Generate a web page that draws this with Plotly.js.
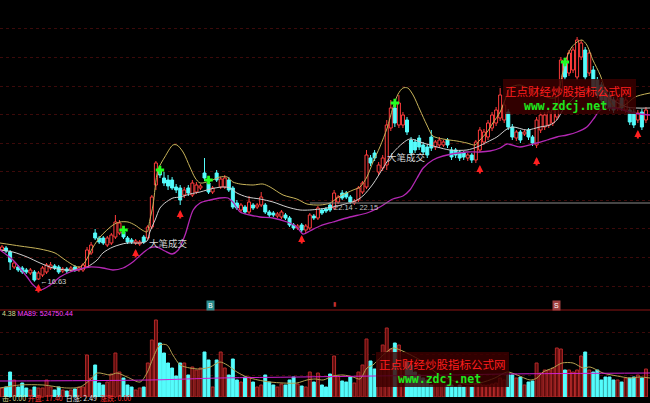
<!DOCTYPE html>
<html><head><meta charset="utf-8">
<script src="https://cdn.plot.ly/plotly-3.0.1.min.js"></script>
<style>html,body{margin:0;padding:0;background:#000;overflow:hidden}#chart{width:650px;height:403px}</style>
</head><body><div id="chart"></div>
<script>
// ---- candle data (price) ----
const openP = [18.85,18.99,18.71,17.66,17.66,17.59,17.45,17.24,17.31,16.82,
17.10,17.31,17.59,17.73,17.66,17.38,17.52,17.45,17.66,17.45,
17.45,17.66,18.64,20.04,19.69,19.69,19.20,19.34,19.76,20.04,
20.11,19.69,19.55,19.34,19.27,19.76,19.69,20.46,23.40,24.45,
23.89,23.75,23.75,23.26,23.19,22.70,23.19,22.70,22.91,23.19,
24.24,23.54,22.91,24.24,23.26,23.26,23.75,23.19,22.14,21.65,
21.86,21.51,22.00,21.86,22.00,22.00,21.51,21.44,21.23,21.16,
21.30,21.09,20.60,20.39,20.60,20.25,20.39,21.23,21.09,21.65,
21.72,22.00,21.79,22.21,22.84,22.84,22.56,22.14,22.35,22.91,
23.26,25.29,25.64,24.31,24.59,24.80,27.39,28.79,27.60,27.60,
27.95,26.55,26.41,26.69,26.20,26.06,26.76,26.06,26.20,26.20,
26.55,25.85,25.85,25.71,25.64,25.29,25.50,25.15,25.85,26.41,
26.76,27.39,27.74,28.09,27.95,28.51,27.46,26.69,27.11,26.97,
27.25,26.76,26.20,27.25,27.46,27.60,27.74,28.16,29.91,31.94,
31.24,31.45,30.96,32.36,32.85,31.24,31.45,30.75,30.40,30.05,
29.70,29.35,28.79,29.49,28.65,28.65,28.51,27.95,28.51,27.95];
const closeP = [19.06,18.78,18.01,17.94,17.45,17.31,17.31,17.45,16.75,17.24,
17.59,17.80,17.80,17.59,17.31,17.52,17.38,17.59,17.45,17.59,
17.80,18.85,19.20,19.69,19.41,19.34,19.69,19.90,20.81,20.74,
19.76,19.41,19.41,19.48,19.41,19.41,20.46,22.56,24.94,24.10,
23.54,23.33,23.19,23.05,22.35,23.05,22.84,23.54,23.40,23.33,
23.89,22.91,23.19,23.75,23.82,23.89,23.05,21.86,21.79,22.00,
21.51,22.21,21.79,22.00,22.56,21.51,21.30,21.30,21.37,21.51,
21.09,20.60,20.39,20.53,20.25,20.53,21.30,21.09,21.79,21.44,
21.58,21.65,22.84,22.56,22.49,22.56,22.21,22.28,23.19,23.54,
25.50,24.94,25.29,24.80,25.29,27.60,28.79,27.74,29.14,28.30,
27.11,25.64,25.85,26.06,25.71,25.50,25.99,26.41,26.55,26.41,
26.20,25.36,25.50,25.29,25.36,25.50,25.15,26.41,27.25,27.11,
27.74,28.30,28.65,29.70,29.00,27.46,26.76,27.11,26.55,27.11,
26.76,26.34,27.95,28.30,28.30,28.51,28.65,29.91,32.15,30.96,
32.64,32.85,33.55,33.34,30.96,32.64,30.19,29.70,29.35,29.00,
28.79,28.65,29.35,28.79,29.35,27.81,27.60,28.44,27.46,28.65];
const highP = [19.20,19.13,18.85,18.08,17.80,17.73,17.59,17.59,17.45,17.38,
17.73,17.94,18.01,17.87,17.80,17.66,17.66,17.73,17.80,17.73,
17.94,19.06,19.41,20.32,19.83,19.83,19.83,20.04,21.30,20.95,
20.32,19.83,19.69,19.62,19.55,19.90,20.60,22.70,25.08,24.73,
24.31,24.10,23.96,23.47,23.40,23.26,23.40,23.75,23.61,23.47,
25.29,23.75,23.33,24.45,23.96,24.10,23.96,23.33,22.35,22.14,
22.00,22.63,22.14,22.14,22.91,22.14,21.65,21.58,21.51,21.65,
21.44,21.23,20.74,20.67,20.74,20.67,21.44,21.37,21.93,21.79,
21.86,22.14,23.05,22.70,23.05,22.98,22.70,22.42,23.33,23.68,
25.85,25.50,25.85,25.01,25.50,27.95,29.35,29.07,29.70,28.51,
28.16,26.76,26.62,26.90,26.41,26.27,27.25,26.55,26.76,26.55,
26.69,26.06,25.99,25.85,25.78,25.64,25.64,26.55,27.46,27.32,
27.95,28.51,28.86,30.19,29.21,28.72,27.67,27.25,27.25,27.25,
27.39,26.90,28.16,28.51,28.51,28.72,28.86,30.12,32.36,32.15,
32.85,33.06,33.76,33.55,33.06,32.85,31.73,30.96,30.61,30.26,
29.91,29.56,29.56,29.70,29.56,28.86,28.72,28.65,28.72,28.86];
const lowP = [18.71,18.64,17.45,17.52,17.31,17.17,17.17,17.10,16.63,16.75,
16.96,17.17,17.45,17.45,17.17,17.24,17.24,17.31,17.31,17.31,
17.31,17.59,18.50,19.55,19.27,19.20,19.06,19.20,19.62,19.90,
19.62,19.27,19.27,19.20,19.13,19.27,19.55,20.32,23.05,23.89,
23.33,23.05,23.05,22.84,22.00,22.49,22.63,22.56,22.77,23.05,
23.68,22.77,22.77,23.61,23.12,23.12,22.91,21.72,21.65,21.51,
21.37,21.37,21.65,21.72,21.86,21.37,21.16,21.16,21.09,21.02,
20.95,20.46,20.25,20.25,20.11,20.04,20.25,20.95,20.95,21.30,
21.44,21.51,21.65,22.07,22.35,22.42,22.07,22.00,22.21,22.77,
23.12,24.73,25.08,24.10,24.38,24.45,27.18,27.46,27.39,27.39,
26.90,25.43,25.64,25.85,25.50,25.29,25.78,25.85,25.99,26.06,
25.99,25.15,25.29,25.08,25.15,25.08,24.94,24.94,25.71,26.20,
26.55,27.18,27.53,27.88,27.74,27.25,26.55,26.48,26.34,26.83,
26.55,26.13,25.99,27.04,27.25,27.39,27.53,27.95,29.70,30.75,
31.03,31.24,30.75,32.15,30.75,31.03,29.98,29.49,29.14,28.79,
28.58,28.44,28.58,28.58,28.44,27.60,27.39,27.74,27.25,27.74];
// volume (10k shares)
const volume = [29.5,32.8,82.0,55.8,32.8,45.9,29.5,23.0,32.8,29.5,
29.5,55.8,32.8,23.0,32.8,23.0,19.7,23.0,26.2,32.8,
32.8,137.8,62.3,105.0,45.9,39.4,49.2,75.4,144.3,82.0,
62.3,39.4,32.8,23.0,29.5,32.8,111.5,187.0,252.6,177.1,
144.3,111.5,95.1,68.9,111.5,111.5,72.2,98.4,88.6,95.1,
147.6,121.4,32.8,121.4,147.6,95.1,72.2,124.6,55.8,49.2,
65.6,65.6,49.2,32.8,39.4,72.2,49.2,39.4,32.8,42.6,
39.4,55.8,65.6,42.6,36.1,32.8,82.0,49.2,78.7,39.4,
32.8,75.4,134.5,68.9,52.5,49.2,65.6,45.9,82.0,105.0,
190.2,118.1,91.8,121.4,170.6,226.3,157.4,177.1,170.6,121.4,
114.8,105.0,82.0,72.2,62.3,55.8,39.4,45.9,55.8,49.2,
39.4,39.4,32.8,39.4,32.8,36.1,32.8,42.6,42.6,39.4,
39.4,42.6,45.9,62.3,55.8,72.2,72.2,62.3,65.6,39.4,
49.2,52.5,111.5,78.7,88.6,88.6,95.1,160.7,157.4,88.6,
88.6,82.0,88.6,134.5,147.6,88.6,82.0,88.6,55.8,65.6,
65.6,55.8,55.8,49.2,62.3,62.3,65.6,72.2,62.3,91.8];
// ---- indicator lines (x = bar number, y = price) ----
const upperX = [-0.5,4.4,9.4,13.1,15.6,18.0,19.3,20.5,22.5,24.2,27.4,29.1,31.1,32.8,34.6,35.8,36.5,37.3,38.5,40.2,42.2,43.2,44.7,46.4,47.7,48.9,51.4,53.8,55.6,57.0,58.8,62.0,64.4,66.2,69.4,72.8,75.3,78.5,81.0,83.5,86.7,88.4,90.1,91.6,93.3,95.1,96.5,97.8,99.0,100.2,101.5,103.2,104.9,106.4,108.9,112.3,114.8,116.8,118.0,119.8,121.2,123.0,124.2,125.4,127.9,131.6,135.3,137.0,138.3,139.5,140.7,142.0,143.2,144.4,145.9,147.7,149.4,151.4,153.8,156.3,160.0];
const upperY = [19.34,19.13,18.92,18.64,18.15,17.73,17.66,18.01,19.06,19.76,20.60,20.81,20.81,20.60,20.25,20.11,20.95,22.00,24.45,25.36,26.20,26.20,25.71,24.66,23.89,23.54,23.68,23.96,23.96,23.61,23.47,23.40,23.47,23.26,22.70,22.42,22.07,22.00,22.14,22.63,23.05,23.26,23.96,25.01,26.06,27.39,28.79,29.77,30.19,30.19,29.70,28.65,27.60,26.83,26.62,26.48,26.34,26.20,26.55,27.11,27.74,28.51,29.35,30.19,30.40,29.91,29.49,29.56,31.10,32.36,33.06,33.41,33.55,33.20,32.15,31.10,29.70,28.79,29.00,29.56,29.84];
const midX = [-0.5,2.7,6.2,9.4,12.6,16.0,18.5,21.0,23.5,24.9,27.4,30.9,34.1,35.8,36.5,37.8,39.0,40.2,42.2,44.0,46.4,48.9,50.6,52.6,54.6,56.3,58.0,60.5,63.7,66.9,70.4,73.6,76.0,78.5,81.7,84.7,87.2,89.1,91.6,94.1,96.5,99.0,100.7,104.0,107.4,110.6,114.8,117.3,119.8,122.2,124.7,126.2,129.6,132.8,135.3,137.0,138.5,140.7,143.2,145.9,149.4,154.3,160.0];
const midY = [18.85,18.71,18.36,17.94,17.59,17.45,17.45,17.66,18.15,18.64,19.06,19.34,19.34,19.48,20.11,20.95,21.79,22.14,22.49,22.56,22.77,22.91,23.05,23.19,23.26,23.19,22.84,22.56,22.42,22.21,21.86,21.65,21.65,21.72,21.86,22.07,22.28,22.63,23.47,24.59,25.64,26.34,26.62,26.34,26.06,25.85,25.85,26.06,26.41,26.76,27.32,27.46,27.25,27.46,27.60,27.95,28.65,29.35,29.91,30.05,29.56,28.86,28.79];
const lowerX = [-0.5,2.7,6.2,7.7,9.4,11.9,14.3,16.8,19.3,21.7,24.9,27.4,29.9,32.3,34.8,36.5,38.3,40.2,42.0,43.5,45.2,47.2,48.9,51.4,53.8,55.8,57.0,58.8,61.2,63.7,66.9,70.4,72.8,74.3,76.0,78.5,81.7,85.9,90.1,93.3,96.5,99.0,100.7,102.5,104.0,106.4,108.9,114.8,118.0,120.5,123.0,124.7,127.9,132.1,134.6,137.0,139.5,142.0,144.4,146.4,147.7,151.4,155.8,160.0];
const lowerY = [18.85,18.15,16.96,16.40,16.05,16.40,16.96,17.31,17.52,17.66,17.59,17.45,17.59,18.01,18.64,18.99,19.06,18.78,18.57,18.85,19.90,21.65,22.14,22.35,22.49,22.49,22.21,21.51,21.30,21.16,21.09,20.81,20.46,19.97,20.18,20.53,20.81,21.16,21.44,21.86,22.42,22.63,23.05,23.89,24.59,25.15,25.43,25.71,25.71,25.78,25.99,26.27,26.06,26.34,26.55,26.76,26.90,27.11,27.46,28.16,28.65,28.79,28.44,28.30];
const volMaX = [-0.5,4.4,10.1,16.0,19.3,21.7,23.5,26.7,28.4,30.9,34.1,35.8,37.3,39.0,40.7,42.2,44.0,46.4,48.9,51.4,53.8,55.6,58.0,60.5,63.2,66.2,69.4,72.8,75.3,77.3,79.3,81.7,84.2,86.7,88.4,90.1,91.6,94.1,96.5,98.3,103.2,108.1,114.3,118.0,121.7,124.7,127.2,130.4,132.1,133.6,136.0,138.3,141.0,143.5,145.2,148.4,151.9,155.1,157.5,160.0];
const volMaY = [29.5,39.4,39.4,29.5,32.8,55.8,78.7,72.2,78.7,65.6,49.2,78.7,127.9,170.6,170.6,137.8,105.0,95.1,91.8,98.4,114.8,105.0,82.0,65.6,55.8,49.2,45.9,45.9,55.8,59.0,55.8,68.9,72.2,65.6,59.0,95.1,105.0,137.8,160.7,154.2,121.4,72.2,42.6,45.9,62.3,82.0,72.2,55.8,62.3,82.0,95.1,111.5,111.5,95.1,98.4,78.7,68.9,62.3,65.6,62.3];
const volMa89X = [-0.5,36.5,53.8,73.6,92.1,110.6,124.7,160.0];
const volMa89Y = [52.5,55.8,62.3,65.6,68.9,72.2,75.4,78.7];
// signals
const arrowBars = [9,33,44,74,118,132,157];
const arrowPrice = [16.47,18.92,21.65,19.90,24.80,25.36,27.25];
const crossBars = [30,39,51,97,139];
const crossPrice = [20.25,24.45,23.75,29.14,32.01];
const noteBars = [41.2,99.8];
const notePrice = [19.34,25.36];
const noteText = ['大笔成交','大笔成交'];
const lowMark = {bar:8.9, price:16.68, text:'←16.63'};
const levelLine = {from:76, to:160, price:22.14, text:'22.14 - 22.15', textBar:87.5, textPrice:21.86};

const bars = openP.map((_,i)=>i);
const W=650,H=403;
const px = x=>x/W, py = y=>1-y/H;
const isUp = openP.map((o,i)=>closeP[i]>=o);
const bodyLow = openP.map((o,i)=>Math.min(o,closeP[i]));
const bodyLen = openP.map((o,i)=>Math.max(Math.abs(closeP[i]-o),0.02));

function wicks(up){
  const xs=[],ys=[];
  bars.forEach(i=>{ if(isUp[i]!==up) return;
    const top=Math.max(openP[i],closeP[i]), bot=Math.min(openP[i],closeP[i]);
    xs.push(i,i,null,i,i,null); ys.push(highP[i],top,null,bot,lowP[i],null);});
  return {xs,ys};
}
const wu=wicks(true), wd=wicks(false);

const traces = [
 {type:'bar', x:bars, base:bodyLow, y:bodyLen, width:0.74, xaxis:'x', yaxis:'y',
  marker:{color:isUp.map(u=>u?'#000000':'#54fcfc'), line:{color:isUp.map(u=>u?'#ff3c3c':'#54fcfc'),width:1}}, hoverinfo:'skip'},
 {type:'scatter', mode:'lines', x:wu.xs, y:wu.ys, line:{color:'#ff3c3c',width:1}, hoverinfo:'skip', connectgaps:false},
 {type:'scatter', mode:'lines', x:wd.xs, y:wd.ys, line:{color:'#54fcfc',width:1}, hoverinfo:'skip', connectgaps:false},
 {type:'scatter', mode:'lines', x:upperX, y:upperY, line:{color:'#c8b45a',width:1,shape:'spline',smoothing:0.8}, hoverinfo:'skip'},
 {type:'scatter', mode:'lines', x:midX, y:midY, line:{color:'#d0d0d0',width:1,shape:'spline',smoothing:0.8}, hoverinfo:'skip'},
 {type:'scatter', mode:'lines', x:lowerX, y:lowerY, line:{color:'#b428b4',width:1.3,shape:'spline',smoothing:0.8}, hoverinfo:'skip'},
 {type:'scatter', mode:'markers', x:crossBars, y:crossPrice, marker:{symbol:'cross',size:7,color:'#22ff22'}, hoverinfo:'skip'},
 {type:'bar', x:bars, y:volume, width:0.72, xaxis:'x', yaxis:'y2',
  marker:{color:isUp.map(u=>u?'#5a0c0c':'#54fcfc'), line:{color:isUp.map(u=>u?'#b42828':'#54fcfc'),width:1}}, hoverinfo:'skip'},
 {type:'scatter', mode:'lines', x:volMaX, y:volMaY, yaxis:'y2', line:{color:'#b4a050',width:1,shape:'spline',smoothing:0.8}, hoverinfo:'skip'},
 {type:'scatter', mode:'lines', x:volMa89X, y:volMa89Y, yaxis:'y2', line:{color:'#d020d0',width:1,shape:'spline'}, hoverinfo:'skip'}
];

const ann = [];
arrowBars.forEach((b,k)=>ann.push({x:b,y:arrowPrice[k],xref:'x',yref:'y',text:'',showarrow:true,ax:0,ay:10,arrowhead:2,arrowsize:0.7,arrowwidth:2,arrowcolor:'#ff2020'}));
noteBars.forEach((b,k)=>ann.push({x:b,y:notePrice[k],xref:'x',yref:'y',text:noteText[k],showarrow:false,font:{family:'Noto Sans CJK SC',size:9.5,color:'#d8d8d8'}}));
ann.push({x:lowMark.bar,y:lowMark.price,xref:'x',yref:'y',xanchor:'left',text:lowMark.text,showarrow:false,font:{family:'Liberation Sans',size:7.5,color:'#d0d0d0'}});
ann.push({x:levelLine.textBar,y:levelLine.textPrice,xref:'x',yref:'y',text:levelLine.text,showarrow:false,font:{family:'Liberation Sans',size:7.5,color:'#c0c0c0'}});
const wm = (cx,cy1,cy2)=>{
  ann.push({x:px(cx),y:py(cy1),xref:'paper',yref:'paper',xanchor:'center',yanchor:'middle',text:'正点财经炒股指标公式网',showarrow:false,font:{family:'Noto Sans CJK SC',size:11.5,color:'#ff1e1e'}});
  ann.push({x:px(cx-3),y:py(cy2),xref:'paper',yref:'paper',xanchor:'center',yanchor:'middle',text:'<b>www.zdcj.net</b>',showarrow:false,font:{family:'DejaVu Sans Mono',size:11.5,color:'#1ee61e'}});
};
wm(568,91,106); wm(442,364,379);
ann.push({x:0,y:py(313),xref:'paper',yref:'paper',xanchor:'left',yanchor:'middle',showarrow:false,
  text:'<span style="color:#d8d890">4.38</span> <span style="color:#ff40ff">MA89: 524750.44</span>',font:{family:'Liberation Sans',size:7}});
ann.push({x:0,y:py(398),xref:'paper',yref:'paper',xanchor:'left',yanchor:'middle',showarrow:false,
  text:'<span style="color:#d8d890">击: 0.00</span> <span style="color:#ff3030">开盘: 17.40</span>  <span style="color:#e0e0e0">日涨: 2.49</span>  <span style="color:#ff3030">涨跌: 0.00</span>',font:{family:'Noto Sans CJK SC',size:7}});
ann.push({x:px(210),y:py(305),xref:'paper',yref:'paper',xanchor:'center',yanchor:'middle',text:'B',showarrow:false,bgcolor:'#2a8c8c',font:{family:'Liberation Sans',size:7,color:'#ffffff'},borderpad:1});
ann.push({x:px(334),y:py(304),xref:'paper',yref:'paper',xanchor:'center',yanchor:'middle',text:'▮',showarrow:false,font:{size:6,color:'#c03030'}});
ann.push({x:px(556),y:py(305),xref:'paper',yref:'paper',xanchor:'center',yanchor:'middle',text:'S',showarrow:false,bgcolor:'#a04040',font:{family:'Liberation Sans',size:7,color:'#ffffff'},borderpad:1});

const shapes = [
 {type:'line',xref:'paper',yref:'paper',x0:0,x1:1,y0:py(310),y1:py(310),line:{color:'#8c1414',width:1}},
 {type:'line',xref:'x',yref:'y',x0:levelLine.from,x1:levelLine.to,y0:levelLine.price,y1:levelLine.price,line:{color:'#8a8a8a',width:1}},
 {type:'rect',xref:'paper',yref:'paper',x0:px(503),x1:px(636),y0:py(114),y1:py(79),fillcolor:'rgba(60,0,0,0.82)',line:{width:0},layer:'above'},
 {type:'rect',xref:'paper',yref:'paper',x0:px(376),x1:px(509),y0:py(387),y1:py(352),fillcolor:'rgba(60,0,0,0.82)',line:{width:0},layer:'above'}
];

const layout = {
 width:W,height:H,margin:{l:0,r:0,t:0,b:0},paper_bgcolor:'#000',plot_bgcolor:'#000',showlegend:false,barmode:'overlay',
 xaxis:{range:[-0.494,160],showgrid:false,zeroline:false,showticklabels:false,showline:false,fixedrange:true},
 yaxis:{domain:[py(302),1],range:[15.21,36.35],showticklabels:false,zeroline:false,showline:false,
   showgrid:true,tick0:16.33,dtick:2.0,gridcolor:'#3c0a0a',griddash:'dot',gridwidth:1},
 yaxis2:{domain:[py(397),py(312)],range:[0,278.8],showticklabels:false,zeroline:false,showline:false,
   showgrid:true,tick0:0,dtick:70,gridcolor:'#3c0a0a',griddash:'dot'},
 annotations:ann, shapes:shapes
};
Plotly.newPlot('chart',traces,layout,{staticPlot:true});
</script></body></html>
